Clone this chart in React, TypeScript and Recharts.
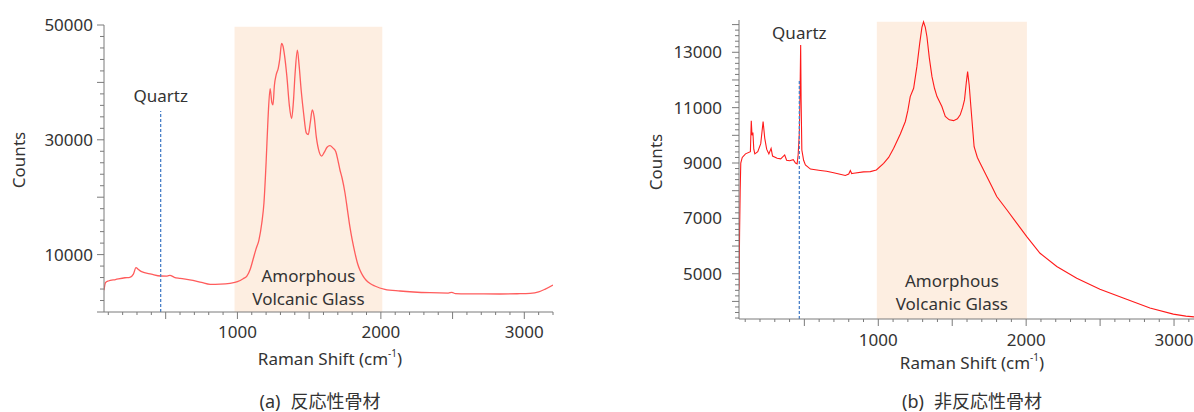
import React from 'react';
import { LineChart, Line, XAxis, YAxis, ReferenceArea, ReferenceLine } from 'recharts';

const FONT = '"Noto Sans", "Noto Sans CJK JP", sans-serif';
const CJK = '"Noto Sans CJK JP", "Noto Sans", sans-serif';
const TEXT = '#333333';
const AXIS = '#7a7a7a';
const SHADE = '#fdeee1';
const QUARTZ = '#4a80c8';

// ---------- (a) reactive aggregate ----------
const shiftA = [
  70, 80, 100, 150, 216, 250, 275, 293, 310, 332, 400, 465, 510, 530, 560, 600, 690, 750, 810, 880, 948,
  1000, 1040, 1066, 1090, 1108, 1130, 1150, 1170, 1185, 1200, 1213, 1228, 1240, 1248, 1258, 1270, 1285,
  1295, 1308, 1318, 1328, 1345, 1362, 1378, 1390, 1402, 1418, 1430, 1445, 1462, 1480, 1494, 1508, 1522,
  1535, 1550, 1570, 1587, 1605, 1625, 1645, 1665, 1686, 1700, 1715, 1730, 1750, 1767, 1784, 1800, 1820,
  1837, 1854, 1875, 1896, 1925, 1958, 2028, 2133, 2342, 2470, 2495, 2520, 2600, 2830, 2950, 3040, 3100,
  3143, 3200,
];
const countsA = [
  3800, 5100, 5400, 5650, 5970, 6050, 6600, 7720, 7400, 7020, 6600, 6270, 6250, 6390, 6050, 5870, 5520,
  5150, 4820, 4850, 5000, 5280, 5800, 6270, 7500, 9060, 11000, 12540, 15500, 19000, 26000, 33500, 38900,
  36500, 36100, 39500, 41300, 42500, 44000, 46800, 46300, 44800, 41000, 36000, 33700, 36500, 41500, 45600,
  43000, 38500, 34500, 31200, 30900, 33000, 35200, 34000, 30500, 27900, 27170, 27800, 28700, 28970, 28600,
  27930, 26500, 24740, 23300, 20730, 17800, 14860, 12600, 10220, 8500, 7320, 6300, 5570, 4950, 4530, 3950,
  3660, 3360, 3300, 3430, 3200, 3150, 3140, 3180, 3250, 3500, 3950, 4700,
];
const xLabelsA = [1000, 2000, 3000];
const yLabelsA = [10000, 30000, 50000];
const xDomainA: [number, number] = [70, 3200];
const yDomainA: [number, number] = [0, 50000];
const glassA = { from: 980, to: 2010, top: 49700 };
const quartzA = { shift: 465, top: 35000 };

// ---------- (b) non-reactive aggregate ----------
const shiftB = [
  58, 62, 66, 70, 80, 102, 135, 141, 146, 152, 158, 165, 185, 205, 221, 232, 245, 260, 275, 285, 316, 340,
  367, 380, 400, 425, 440, 451, 458, 466, 472, 475, 478, 483, 495, 507, 541, 608, 650, 698, 777, 800, 811,
  820, 834, 900, 946, 987, 1036, 1070, 1104, 1149, 1183, 1200, 1216, 1239, 1261, 1280, 1295, 1306, 1318,
  1329, 1345, 1363, 1380, 1397, 1430, 1453, 1480, 1509, 1535, 1554, 1570, 1583, 1595, 1604, 1615, 1626,
  1648, 1670, 1689, 1734, 1768, 1801, 1869, 1936, 2004, 2094, 2207, 2342, 2499, 2679, 2837, 2995, 3080,
  3135,
];
const countsB = [
  4420, 6500, 8030, 9000, 9200, 9330, 9410, 10530, 10000, 10100, 9500, 9330, 9410, 9700, 10500, 9900, 9500,
  9330, 9530, 9250, 9170, 9150, 9290, 9100, 9080, 9120, 9000, 8970, 9300, 10080, 12000, 13260, 11280, 9470,
  9100, 8930, 8780, 8730, 8700, 8650, 8550, 8600, 8730, 8620, 8630, 8680, 8690, 8750, 8990, 9200, 9530,
  10050, 10500, 10900, 11400, 11700, 12480, 13320, 13900, 14100, 13900, 13560, 12800, 12120, 11700, 11400,
  11040, 10680, 10560, 10530, 10600, 10740, 11000, 11280, 11900, 12300, 11800, 11040, 9590, 9200, 8990,
  8510, 8150, 7790, 7310, 6830, 6340, 5740, 5260, 4840, 4440, 4080, 3760, 3540, 3470, 3440,
];
const xLabelsB = [1000, 2000, 3000];
const yLabelsB = [5000, 7000, 9000, 11000, 13000];
const xDomainB: [number, number] = [58, 3135];
const yDomainB: [number, number] = [3365, 14166];
const glassB = { from: 990, to: 2005, top: 14100 };
const quartzB = { shift: 466, top: 12000 };

const axisTitle = 'Raman Shift (cm';
const yTitle = 'Counts';
const captionA = ['(a)', '反応性骨材'];
const captionB = ['(b)', '非反応性骨材'];
const glassText = ['Amorphous', 'Volcanic Glass'];
const quartzText = 'Quartz';

const steps = (start: number, end: number, step: number) => {
  const out: number[] = [];
  for (let v = start; v <= end; v += step) out.push(v);
  return out;
};

const zip = (xs: number[], ys: number[]) => xs.map((x, i) => ({ x, y: ys[i] }));
const dataA = zip(shiftA, countsA);
const dataB = zip(shiftB, countsB);

const XTick = (props: any) => {
  const { x, y, payload, labels, major, labelDy } = props;
  const v = payload.value;
  const len = v % major === 0 ? 7 : 3;
  return (
    <g>
      <line x1={x} y1={y} x2={x} y2={y + len} stroke={AXIS} strokeWidth={1} />
      {labels.includes(v) && (
        <text x={x} y={y + labelDy} textAnchor="middle" fill={TEXT} fontSize={17} fontFamily={FONT}>
          {v}
        </text>
      )}
    </g>
  );
};

const YTick = (props: any) => {
  const { x, y, payload, labels, major, gap } = props;
  const v = payload.value;
  const len = v % major === 0 ? 7 : 4;
  return (
    <g>
      <line x1={x} y1={y} x2={x - len} y2={y} stroke={AXIS} strokeWidth={1} />
      {labels.includes(v) && (
        <text x={x - gap} y={y} dy="0.35em" textAnchor="end" fill={TEXT} fontSize={17} fontFamily={FONT}>
          {v}
        </text>
      )}
    </g>
  );
};

const GlassLabel = (props: any) => {
  const vb = props.viewBox || {};
  const cx = vb.x + vb.width / 2;
  const bottom = vb.y + vb.height;
  return (
    <g>
      <text x={cx} y={bottom - props.d1} textAnchor="middle" fill={TEXT} fontSize={17} fontFamily={FONT}>
        {glassText[0]}
      </text>
      <text x={cx} y={bottom - props.d2} textAnchor="middle" fill={TEXT} fontSize={17} fontFamily={FONT}>
        {glassText[1]}
      </text>
    </g>
  );
};

type PanelProps = {
  data: { x: number; y: number }[];
  width: number;
  margin: { top: number; right: number; bottom: number; left: number };
  xDomain: [number, number];
  yDomain: [number, number];
  xTicks: number[];
  yTicks: number[];
  xLabels: number[];
  yLabels: number[];
  yMajor: number;
  yGap: number;
  xLabelDy: number;
  glass: { from: number; to: number; top: number };
  quartz: { shift: number; top: number };
  quartzOffset: number;
  glassD: [number, number];
  stroke: string;
  strokeWidth: number;
  curve: 'monotone' | 'linear';
};

const Panel = (p: PanelProps) => (
  <LineChart width={p.width} height={412} data={p.data} margin={p.margin}>
    <XAxis
      dataKey="x"
      type="number"
      domain={p.xDomain}
      allowDataOverflow
      ticks={p.xTicks}
      interval={0}
      tickSize={0}
      tickMargin={0}
      tickLine={false}
      height={30}
      axisLine={{ stroke: AXIS }}
      tick={(t: any) => <XTick {...t} labels={p.xLabels} major={500} labelDy={p.xLabelDy} />}
    />
    <YAxis
      dataKey="y"
      type="number"
      domain={p.yDomain}
      allowDataOverflow
      ticks={p.yTicks}
      interval={0}
      tickSize={0}
      tickMargin={0}
      tickLine={false}
      width={60}
      axisLine={{ stroke: AXIS }}
      tick={(t: any) => <YTick {...t} labels={p.yLabels} major={p.yMajor} gap={p.yGap} />}
    />
    <ReferenceArea
      x1={p.glass.from}
      x2={p.glass.to}
      y1={p.yDomain[0]}
      y2={p.glass.top}
      fill={SHADE}
      fillOpacity={1}
      stroke="none"
      ifOverflow="hidden"
      label={(l: any) => <GlassLabel {...l} d1={p.glassD[0]} d2={p.glassD[1]} />}
    />
    <Line
      type={p.curve}
      dataKey="y"
      stroke={p.stroke}
      strokeWidth={p.strokeWidth}
      dot={false}
      activeDot={false}
      isAnimationActive={false}
    />
    <ReferenceLine
      segment={[
        { x: p.quartz.shift, y: p.yDomain[0] },
        { x: p.quartz.shift, y: p.quartz.top },
      ]}
      stroke={QUARTZ}
      strokeWidth={1.3}
      strokeDasharray="3 2"
      ifOverflow="hidden"
      label={{ value: quartzText, position: 'top', offset: p.quartzOffset, fill: TEXT, fontSize: 17, fontFamily: FONT }}
    />
  </LineChart>
);

const abs = (left: number, top: number, extra: React.CSSProperties = {}): React.CSSProperties => ({
  position: 'absolute',
  left,
  top,
  transform: 'translate(-50%, -50%)',
  whiteSpace: 'nowrap',
  color: TEXT,
  fontFamily: FONT,
  fontSize: 17,
  lineHeight: 1,
  ...extra,
});

const XTitle = ({ x, y }: { x: number; y: number }) => (
  <div style={abs(x, y)}>
    {axisTitle}
    <span style={{ fontSize: 10, position: 'relative', top: -8 }}>-1</span>)
  </div>
);

const Caption = ({ x, y, parts }: { x: number; y: number; parts: string[] }) => (
  <div style={abs(x, y, { fontSize: 18 })}>
    {parts[0]}
    <span style={{ fontFamily: CJK, marginLeft: 10 }}>{parts[1]}</span>
  </div>
);

export default function App() {
  return (
    <div style={{ position: 'absolute', left: 0, top: 0, width: 1194, height: 412, background: '#fff', overflow: 'hidden' }}>
      <div style={{ position: 'absolute', left: 0, top: 0 }}>
        <Panel
          data={dataA}
          width={600}
          margin={{ top: 25, right: 47, bottom: 70, left: 44 }}
          xDomain={xDomainA}
          yDomain={yDomainA}
          xTicks={steps(100, 3200, 100)}
          yTicks={steps(0, 50000, 2000)}
          xLabels={xLabelsA}
          yLabels={yLabelsA}
          yMajor={10000}
          yGap={11}
          xLabelDy={26}
          glass={glassA}
          quartz={quartzA}
          quartzOffset={9}
          glassD={[30, 7]}
          stroke="#ff5c5c"
          strokeWidth={1.3}
          curve="monotone"
        />
      </div>
      <div style={{ position: 'absolute', left: 597, top: 0 }}>
        <Panel
          data={dataB}
          width={597}
          margin={{ top: 20, right: 0, bottom: 63, left: 82 }}
          xDomain={xDomainB}
          yDomain={yDomainB}
          xTicks={steps(100, 3100, 100)}
          yTicks={steps(3400, 14000, 200)}
          xLabels={xLabelsB}
          yLabels={yLabelsB}
          yMajor={1000}
          yGap={17}
          xLabelDy={27}
          glass={glassB}
          quartz={quartzB}
          quartzOffset={41}
          glassD={[32, 9]}
          stroke="#ff1a1a"
          strokeWidth={1.1}
          curve="linear"
        />
      </div>
      <div style={abs(18, 160, { transform: 'translate(-50%, -50%) rotate(-90deg)' })}>{yTitle}</div>
      <div style={abs(655, 162, { transform: 'translate(-50%, -50%) rotate(-90deg)' })}>{yTitle}</div>
      <XTitle x={330} y={358} />
      <XTitle x={972} y={362} />
      <Caption x={320} y={400} parts={captionA} />
      <Caption x={972} y={400} parts={captionB} />
    </div>
  );
}
